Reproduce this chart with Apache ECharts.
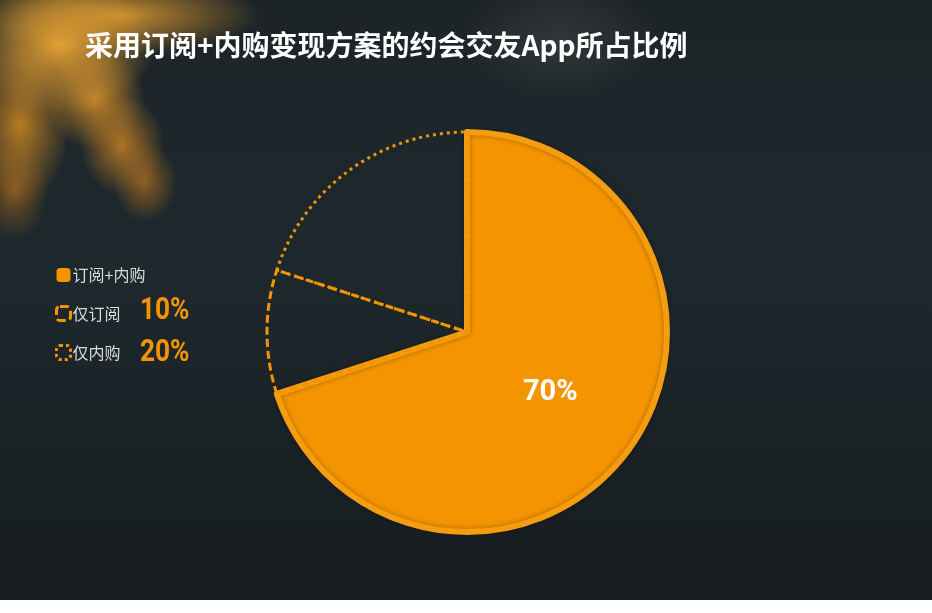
<!DOCTYPE html>
<html>
<head>
<meta charset="utf-8">
<script src="https://cdn.jsdelivr.net/npm/echarts@6/dist/echarts.min.js"></script>
<style>
  html, body { margin: 0; padding: 0; background: #fff; }
  #wrap {
    position: relative; width: 932px; height: 613px; overflow: hidden; background: #fff;
  }
  #bg {
    position: absolute; left: 0; top: 0; width: 932px; height: 600px;
    background:
      radial-gradient(ellipse 95px 70px at 60px 45px, rgba(228,160,50,1), rgba(228,160,50,0.6) 45%, rgba(228,160,50,0) 100%),
      radial-gradient(ellipse 140px 40px at 120px 15px, rgba(218,152,46,0.9), rgba(218,152,46,0) 100%),
      radial-gradient(ellipse 50px 50px at 95px 100px, rgba(210,140,40,0.9), rgba(210,140,40,0) 100%),
      radial-gradient(ellipse 42px 50px at 122px 145px, rgba(200,130,36,0.85), rgba(200,130,36,0) 100%),
      radial-gradient(ellipse 32px 40px at 145px 182px, rgba(185,115,32,0.7), rgba(185,115,32,0) 100%),
      radial-gradient(ellipse 50px 80px at 20px 125px, rgba(200,132,34,0.9), rgba(200,132,34,0) 100%),
      radial-gradient(ellipse 34px 50px at 14px 190px, rgba(175,108,28,0.65), rgba(175,108,28,0) 100%),
      radial-gradient(ellipse 100px 60px at 560px 40px, rgba(120,120,110,0.22), rgba(120,120,110,0) 100%),
      linear-gradient(180deg, #1d2428 0%, #1e292d 45%, #1a2225 75%, #171d20 100%);
  }
  #chart { position: absolute; left: 0; top: 0; width: 932px; height: 613px; }
</style>
</head>
<body>
<div id="wrap">
  <div id="bg"></div>
  <div id="chart"></div>
</div>
<script>
  const titleText = "采用订阅+内购变现方案的约会交友App所占比例"
  const categories = ["订阅+内购", "仅订阅", "仅内购"]
  const shares = [70, 10, 20]
  const lineStyles = ["solid", [8, 4], [3, 4]]

  const orange = "#f39400"
  const numFont = "Roboto, DejaVu Sans, sans-serif"

  var chartDom = document.getElementById("chart")
  var myChart = echarts.init(chartDom, null, { renderer: "canvas" })

  const pieData = categories.map((name, i) => {
    if (i === 0) {
      return {
        name: name,
        value: shares[i],
        itemStyle: {
          color: orange,
          borderColor: "#f59c10",
          borderWidth: 6,
          shadowColor: "rgba(0,0,0,0.3)",
          shadowBlur: 5,
        },
        label: { show: true },
      }
    }
    return {
      name: name,
      value: shares[i],
      itemStyle: {
        color: "rgba(0,0,0,0)",
        borderColor: orange,
        borderWidth: 3,
        borderType: lineStyles[i],
      },
      label: { show: false },
    }
  })

  const legendData = categories.map((name, i) => ({
    name: name,
    itemStyle:
      i === 0
        ? { color: orange, borderWidth: 0 }
        : {
            color: "rgba(0,0,0,0)",
            borderColor: orange,
            borderWidth: 3,
            borderType: i === 1 ? [9, 4] : [3, 3],
          },
  }))

  // percentages beside legend rows (narrowed like the condensed face in the picture)
  const legendPct = [1, 2].map((i, k) => ({
    type: "text",
    left: 140,
    top: [295, 337][k],
    scaleX: 0.82,
    style: {
      text: shares[i] + "%",
      fill: orange,
      font: "bold 32px " + numFont,
    },
  }))

  var option = {
    animation: false,
    backgroundColor: "transparent",
    title: {
      text: titleText,
      left: 80,
      top: 26,
      textStyle: {
        color: "#ffffff",
        fontSize: 28,
        fontWeight: "bold",
        fontFamily: "Noto Sans CJK SC",
      },
    },
    legend: {
      orient: "vertical",
      left: 50,
      top: 262,
      itemWidth: 14,
      itemHeight: 14,
      itemGap: 22,
      selectedMode: false,
      data: legendData,
      textStyle: {
        color: "#dcdcdc",
        fontSize: 16,
        fontFamily: "Noto Sans CJK SC",
        padding: [0, 0, 0, -3],
      },
    },
    graphic: legendPct,
    series: [
      {
        type: "pie",
        center: [467, 332],
        radius: [0, 200],
        startAngle: 90,
        clockwise: true,
        silent: true,
        label: {
          position: "inside",
          formatter: "{c}%",
          color: "#ffffff",
          fontSize: 29,
          fontWeight: "bold",
          fontFamily: numFont,
        },
        labelLine: { show: false },
        emphasis: { disabled: true },
        data: pieData,
      },
    ],
  }

  option && myChart.setOption(option)
</script>
</body>
</html>
